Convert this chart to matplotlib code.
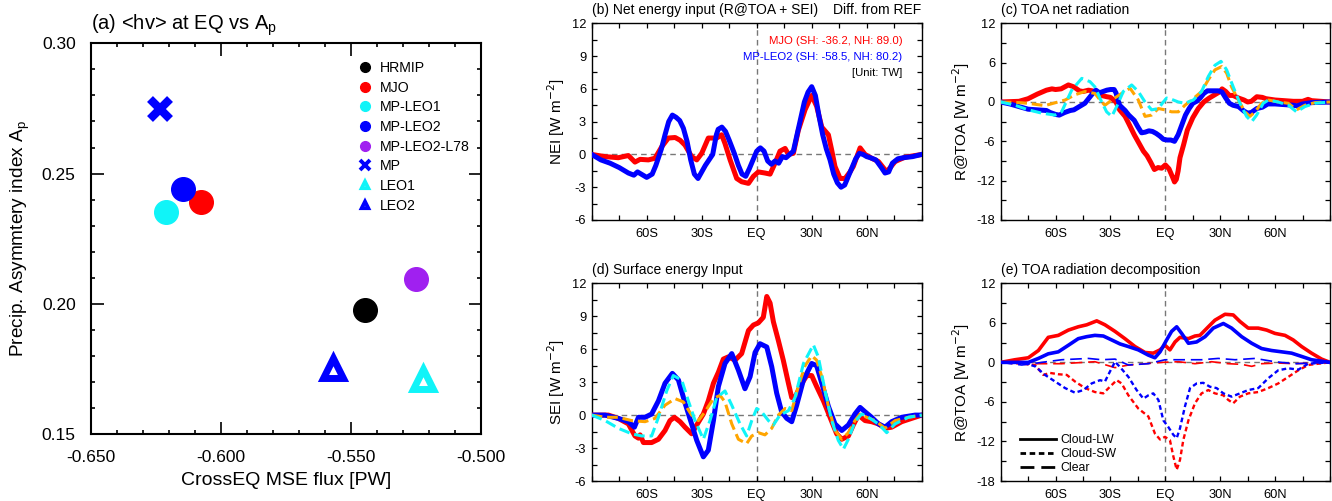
import matplotlib
matplotlib.use('Agg')
import matplotlib.pyplot as plt
from matplotlib.lines import Line2D
from matplotlib.ticker import MultipleLocator, FormatStrFormatter, FixedLocator, FixedFormatter

plt.rcParams['font.family'] = ['Liberation Sans', 'DejaVu Sans']
plt.rcParams['axes.unicode_minus'] = False

RED = '#ff0000'
BLUE = '#0000ff'
CYAN = '#10f4f8'
ORANGE = '#ffa500'
PURPLE = '#a020f0'

# ---- (a) scatter: cross-equatorial MSE flux vs precip asymmetry
exp_names = ['HRMIP', 'MJO', 'MP-LEO1', 'MP-LEO2', 'MP-LEO2-L78', 'MP', 'LEO1', 'LEO2']
exp_flux = [-0.5448, -0.6076, -0.6211, -0.6145, -0.5249, -0.6234, -0.5225, -0.5570]
exp_ap = [0.1976, 0.2390, 0.2352, 0.2442, 0.2097, 0.2748, 0.1712, 0.1756]
exp_color = ['black', RED, CYAN, BLUE, PURPLE, BLUE, CYAN, BLUE]
exp_marker = ['o', 'o', 'o', 'o', 'o', 'x', '^', '^']

# ---- (b) net energy input
nei_mjo_lat = [-90, -82.7, -75.5, -70, -66.4, -63.6, -59.1, -55.5, -51.8, -48.2, -44.5, -41.8, -39.1,
               -35.5, -32.7, -30, -26.4, -21.8, -19.1, -17.3, -14.5, -10.9, -8.2, -4.5, -1.8, 0.9,
               4.5, 7.3, 10, 12.7, 15.5, 17.3, 20, 22.7, 26.4, 30, 32.7, 35.5, 39.1, 40.9, 42.7,
               45.5, 48.2, 50.9, 52.7, 56.4, 59.1, 62.7, 66.4, 70.9, 75.5, 80.9, 86.4, 90]
nei_mjo = [0, -0.2, -0.3, -0.1, -0.7, -0.45, -0.5, -0.35, 0.7, 1.5, 1.55, 1.3, 0.85,
           -0.2, -0.5, 0.1, 1.5, 1.5, 1.8, 1.0, -0.5, -2.2, -2.5, -2.65, -2.0, -1.6,
           -1.7, -1.8, -0.8, 0.3, 0.55, 0.0, 0.1, 2.2, 4.1, 5.4, 4.4, 2.5, 1.8, 0.4, -1.1,
           -2.2, -2.2, -1.6, -1.1, 0.6, 0.0, -0.35, -0.65, -1.6, -0.65, -0.25, -0.1, 0]
nei_leo2_lat = [-90, -85, -80, -75, -70, -67, -65, -63, -60, -57, -55, -52, -50, -48, -46, -44, -42,
                -40, -38, -36, -34, -32, -30, -28, -26, -24, -22, -21, -19, -17, -15, -12, -10, -8,
                -6, -4, -2, 0, 2, 4, 6, 8, 10, 12, 14, 16, 18, 20, 22, 24, 26, 28, 30, 32, 34, 36,
                38, 40, 42, 44, 46, 48, 50, 52, 54, 56, 58, 60, 62, 65, 68, 70, 72, 74, 77, 80, 85, 90]
nei_leo2 = [0, -0.5, -0.8, -1.2, -1.7, -1.9, -1.6, -1.8, -2.1, -1.8, -1.0, 0.5, 1.8, 3.0, 3.6, 3.4, 3.1,
            2.4, 1.2, -0.5, -1.8, -2.2, -1.6, -1.0, -0.5, 0.0, 1.8, 2.3, 2.5, 2.1, 1.3, 0.0, -1.0, -1.8,
            -2.0, -1.3, -0.5, 0.3, 0.6, 0.3, -0.6, -0.9, -0.6, -0.8, -0.2, -0.3, 0.0, 0.3, 1.8, 3.3, 4.8,
            5.7, 6.2, 5.4, 3.5, 1.8, 0.5, -0.5, -1.8, -2.6, -3.0, -2.8, -2.0, -1.2, -0.4, 0.1, 0.0, -0.2,
            -0.3, -0.5, -1.2, -1.7, -1.6, -0.8, -0.4, -0.3, -0.2, 0]

# ---- (c) TOA net radiation
toa_mjo_lat = [-90, -80, -75, -70, -65, -62, -60, -57, -55, -53, -50, -47, -45, -42, -40, -38, -35, -32,
               -30, -27, -25, -22, -20, -17, -15, -12, -10, -8, -6, -4, -2, 0, 2, 4, 5, 6, 7, 8, 10,
               12, 15, 18, 21, 24, 27, 30, 31, 33, 35, 37, 40, 43, 45, 47, 50, 53, 55, 60, 65, 70, 75,
               78, 80, 85, 90]
toa_mjo = [0, 0.1, 0.5, 1.2, 1.8, 2.0, 1.9, 2.0, 2.3, 2.6, 2.3, 1.7, 1.6, 1.8, 1.7, 1.5, 1.0, 0.8,
           0.7, 0.0, -1.2, -2.2, -3.3, -5.0, -6.0, -7.5, -8.2, -9.2, -10.3, -10.0, -10.1, -9.6, -10.2,
           -11.5, -12.2, -11.8, -10.5, -8.5, -6.5, -4.3, -2.4, -1.0, 0.0, 0.6, 1.1, 1.6, 2.0, 1.6, 1.0,
           1.0, 0.6, 0.3, 0.0, 0.1, 0.8, 0.7, 0.5, 0.3, 0.2, 0.1, 0.1, 0.4, 0.2, 0.1, 0]
toa_leo2_lat = [-90, -85, -80, -75, -70, -65, -63, -60, -58, -55, -52, -50, -47, -44, -42, -40, -38, -36,
                -34, -32, -30, -28, -27, -25, -22, -20, -17, -15, -13, -11, -9, -7, -5, -3, -1, 1, 3,
                5, 7, 9, 11, 13, 15, 17, 19, 21, 23, 26, 29, 31, 33, 35, 37, 40, 43, 45, 47, 50, 53,
                56, 60, 65, 70, 72, 75, 80, 90]
toa_leo2 = [0, -0.3, -0.7, -1.1, -1.2, -1.3, -1.6, -1.9, -2.0, -1.6, -1.3, -1.2, -0.7, -0.2, 0.5, 1.2,
            1.8, 1.4, 1.6, 1.8, 1.9, 1.9, 1.4, -0.5, -1.3, -2.0, -2.8, -3.8, -4.7, -4.6, -4.4, -4.5,
            -4.8, -5.2, -5.7, -5.8, -5.8, -6.0, -5.0, -3.5, -2.0, -1.0, -0.2, 0.1, 0.6, 1.3, 1.7, 1.7,
            1.7, 1.5, 0.6, -0.2, -0.5, -0.7, -1.4, -1.7, -1.6, -1.0, -0.8, -0.3, -0.3, -0.4, -0.5,
            -0.6, -0.3, -0.1, 0]
toa_or_lat = [-90, -80, -75, -70, -65.8, -54.8, -49.4, -43.9, -38.5, -34.8, -33, -29.3, -23.9, -19.3,
              -14.8, -11.1, -7.5, -3.8, -0.2, 3.4, 7.1, 10.7, 14.4, 19.8, 23.5, 27.1, 30.8, 33.5,
              36.2, 39.9, 43.5, 46.2, 49, 52.6, 56.3, 61.7, 67.2, 71.7, 76.3, 81.8, 90]
toa_or = [0, -0.1, -0.2, -0.4, -0.55, 0.3, 1.1, 1.6, 1.3, 0.0, -0.5, 0.3, 1.3, 2.1,
          0.3, -2.2, -2.0, -1.0, -1.2, -1.5, -1.5, -0.5, 0.3, 1.6, 3.4, 4.9, 5.4, 4.4,
          2.3, 0.3, -1.5, -2.2, -1.5, -0.2, 0.3, 0.0, -0.2, -1.2, -0.5, -0.1, 0]
toa_cy_lat = [-90, -82.2, -74.9, -67.6, -60.3, -56.7, -51.2, -45.7, -41.2, -38.5, -34.8, -32.1, -29.3,
              -26.6, -23, -18.4, -14.8, -11.1, -7.5, -3.8, -1.1, 0.7, 3.4, 7.1, 10.7, 15.3, 19.8,
              23.5, 27.1, 30.4, 33.5, 37.1, 40.8, 44.4, 47.2, 49.9, 53.5, 56.3, 61.7, 67.2, 71.7,
              76.3, 81.8, 90]
toa_cy = [0, -0.5, -1.2, -1.7, -2.0, -1.5, 1.8, 3.6, 3.1, 2.3, 0.0, -1.5, -2.2,
          -0.7, 1.6, 2.6, 1.6, 0.0, -1.2, -1.0, 0.0, 0.6, 0.4, 0.0, -0.2, 0.3, 1.6,
          3.9, 5.6, 6.2, 4.9, 2.3, -0.2, -2.2, -3.0, -2.0, -0.2, 0.3, 0.0, -0.5, -1.5,
          -0.7, -0.2, 0]

# ---- (d) surface energy input
sei_mjo_lat = [-90, -80.9, -75.5, -70, -66.4, -64.5, -63.6, -61.8, -57.3, -53.6, -50, -47.3, -44.9, -41.8,
               -39.1, -35.5, -32.7, -29.1, -26.4, -23.6, -20.9, -18.2, -15.5, -11.8, -8.2, -4.5, -1.8,
               0.9, 3.6, 5.5, 7.3, 9.1, 11.8, 14.5, 17.3, 19.1, 20.9, 23.6, 27.3, 30, 32.7, 36.4, 40,
               43.6, 46.4, 50, 52.7, 55.5, 59.1, 62.7, 66.4, 70, 73.6, 79.1, 84.5, 90]
sei_mjo = [0, 0.0, -0.3, -0.8, -1.9, -2.1, -1.8, -2.5, -2.5, -2.2, -1.4, -0.5, -0.2, -0.6,
           -1.1, -1.7, -0.9, 0.1, 1.3, 2.9, 3.9, 5.1, 5.3, 5.0, 5.6, 7.7, 8.2,
           8.4, 8.9, 10.8, 10.2, 8.5, 6.8, 5.0, 2.9, 1.6, 1.6, 2.6, 3.6, 3.6, 2.6, 1.3, -0.2,
           -1.7, -2.2, -1.9, -0.9, 0.0, -0.5, -0.6, -0.8, -1.2, -1.1, -0.6, -0.3, 0]
sei_leo2_lat = [-90, -82.7, -75.5, -70, -66.7, -64.5, -60.9, -57.3, -53.6, -50, -46, -42.7, -39.1, -35.5,
                -32.7, -29.1, -26.4, -23.6, -20.9, -17.3, -13.6, -10, -6.4, -3.6, -0.9, 1.8, 5.5, 8.2,
                10.9, 13.6, 16.4, 19.1, 21.8, 25.5, 30, 32.7, 35.5, 39.1, 42.7, 46.4, 50, 53.6, 56.4,
                59.1, 62.7, 66.4, 70, 73.6, 79.1, 86.4, 90]
sei_leo2 = [0, 0.0, -0.3, -0.6, -1.1, -0.2, -0.2, 0.1, 1.3, 2.9, 3.8, 3.2, 1.1, -0.8,
            -2.3, -3.8, -3.2, -0.5, 2.6, 4.7, 5.6, 4.1, 2.4, 3.5, 5.7, 6.5, 6.2, 4.4,
            2.0, 0.3, -0.3, -0.6, 0.9, 3.2, 4.7, 4.5, 2.9, 0.8, -0.8, -1.4, -0.9, 0.1, 0.7,
            0.3, -0.2, -0.8, -1.1, -0.6, -0.2, 0.0, 0]
sei_or_lat = [-90, -82.7, -75.5, -68.2, -60.9, -55.5, -50, -44.5, -40, -35.5, -31.8, -28.2, -23.6, -20,
              -17.3, -13.6, -10, -5.5, -2.7, 0.9, 4.5, 8.2, 11.8, 15.5, 19.1, 22.7, 26.4, 30, 32.7,
              35.5, 39.1, 42.7, 46.4, 50, 53.6, 56.4, 60, 64.5, 70, 75.5, 82.7, 90]
sei_or = [0, -0.2, -0.2, -0.5, -0.6, -0.3, 0.9, 1.5, 1.2, 0.0, -0.5, 0.3, 1.5, 1.8,
          1.2, -0.8, -2.2, -2.6, -1.9, -1.6, -1.8, -1.2, 0.0, 0.6, 0.4, 2.6, 4.5, 5.4, 5.0,
          3.5, 0.8, -1.4, -2.2, -1.6, -0.5, 0.1, -0.2, -0.5, -1.2, -0.5, -0.2, 0]
sei_cy_lat = [-90, -82.7, -75.5, -68.2, -62.7, -57.3, -53.6, -49.1, -45.5, -40.9, -37.3, -33.6, -29.1,
              -25.5, -21.8, -17.3, -13.6, -9.1, -5.5, -2.7, 0, 2.7, 6.4, 9.1, 12.7, 17.3, 20.9,
              25.5, 30.9, 33.6, 37.3, 40.9, 44.5, 47.3, 50, 53.6, 57.3, 60.9, 66.4, 70.9, 75.5,
              82.7, 90]
sei_cy = [0, -0.5, -1.2, -1.7, -1.9, -1.9, -0.2, 2.2, 3.6, 3.2, 1.3, -0.5, -2.2,
          -0.5, 1.6, 2.2, 0.9, -0.8, -1.9, -0.5, 0.6, 0.3, -0.5, -0.9, 0.0, 0.4, 1.6,
          4.7, 6.4, 5.3, 2.2, -0.5, -2.3, -3.1, -2.2, -0.6, 0.1, -0.2, -0.8, -1.6, -0.8,
          -0.2, 0]

# ---- (e) TOA radiation decomposition
lw_mjo_lat = [-90, -82.2, -74.9, -69.4, -64, -58.5, -53, -47.6, -43, -37.5, -33, -27.5, -22.1, -16.6,
              -11.1, -6.6, -2.9, -0.2, 2.5, 5.3, 8, 12.6, 16.2, 18.9, 23.5, 27.1, 32.6, 37.1, 40.8,
              45.3, 50.8, 55.4, 59.9, 65.4, 69.9, 74.5, 79.9, 85.4, 90]
lw_mjo = [0, 0.4, 0.7, 1.8, 3.8, 4.1, 4.9, 5.4, 5.7, 6.3, 5.7, 4.7, 3.6, 2.4,
          1.5, 1.4, 1.9, 2.6, 1.9, 3.1, 3.8, 3.6, 4.0, 4.1, 5.4, 6.4, 7.3, 7.2, 6.2,
          5.2, 5.2, 4.9, 4.4, 4.1, 3.4, 2.4, 1.4, 0.5, 0]
lw_leo2_lat = [-90, -74.9, -69.4, -64, -58.5, -53, -47.6, -43, -38.5, -33.9, -29.3, -24.8, -20.2, -14.8,
               -9.3, -5.7, -2.9, 0.7, 3.4, 6.2, 8.9, 12.6, 17.1, 21.7, 26.2, 31.7, 36.2, 41.7, 47.2,
               52.6, 58.1, 63.6, 69, 74.5, 79.9, 90]
lw_leo2 = [0, 0.0, 0.6, 1.3, 1.6, 2.6, 3.6, 3.9, 4.1, 4.0, 3.4, 2.8, 2.4, 1.9,
           1.1, 0.7, 1.6, 3.4, 4.7, 5.4, 4.4, 2.9, 3.1, 3.9, 5.2, 5.9, 5.2, 3.9, 2.9,
           2.1, 1.8, 1.6, 1.4, 0.9, 0.4, 0]
sw_mjo_lat = [-90, -78.5, -71.2, -66.7, -63, -58.5, -53.9, -49.4, -43.9, -38.5, -33.9, -30.3, -26.6,
              -23.9, -20.2, -14.8, -9.3, -5.7, -2.9, -0.2, 2.5, 4.4, 6.2, 8, 9.8, 12.6, 16.2, 19.8,
              23.5, 27.1, 31.7, 34.4, 37.1, 40.8, 45.3, 50.8, 56.3, 61.7, 67.2, 72.7, 78.1, 83.6, 90]
sw_mjo = [0, -0.2, -0.4, -1.9, -1.6, -1.8, -1.9, -2.9, -3.9, -4.5, -4.7, -3.7, -2.7,
          -3.2, -5.0, -7.0, -8.2, -10.8, -11.7, -11.3, -11.8, -14.3, -16.3, -14.8, -11.8, -8.8,
          -6.2, -4.7, -4.2, -4.7, -5.0, -5.7, -6.2, -5.2, -4.7, -4.5, -3.9, -3.2, -2.2, -1.2,
          -0.4, -0.2, 0]
sw_leo2_lat = [-90, -78.5, -71.2, -65.8, -60.3, -54.8, -49.4, -44.8, -40.3, -35.7, -33, -30.3, -27.5,
               -24.8, -20.2, -15.7, -12, -9.3, -6.6, -3.8, -1.1, 1.6, 4.4, 6.2, 8, 10.7, 13.5, 17.1,
               20.7, 24.4, 28, 31.7, 36.2, 40.8, 45.3, 50.8, 56.3, 61.7, 67.2, 72.7, 78.1, 90]
sw_leo2 = [0, 0.0, -0.6, -1.9, -2.9, -3.9, -4.6, -4.2, -3.2, -2.7, -2.9, -1.4, 0.1,
           -0.7, -2.2, -4.2, -5.5, -5.0, -4.7, -5.7, -8.8, -9.8, -11.0, -11.5, -10.0, -6.7,
           -3.9, -3.2, -3.1, -3.7, -3.9, -4.7, -5.2, -4.7, -4.2, -3.9, -2.4, -1.2, -0.9, -1.1,
           -0.2, 0]
clr_mjo_lat = [-90, -74.9, -56.7, -38.5, -27.5, -20.2, -11.1, -2, 7.1, 16.2, 25.3, 34.4, 41.7, 47.2,
               52.6, 61.7, 70.8, 90]
clr_mjo = [0, -0.2, -0.2, 0.1, -0.8, -0.4, -0.2, 0.0, 0.1, -0.2, 0.1, -0.2, -0.3, -0.6,
           -0.2, -0.1, -0.2, 0]
clr_leo2_lat = [-90, -78.5, -67.6, -56.7, -42.1, -34.8, -27.5, -20.2, -9.3, -0.2, 8.9, 19.8, 28.9,
                38.1, 49, 59.9, 70.8, 90]
clr_leo2 = [0, -0.4, 0.0, 0.4, 0.6, 0.4, 0.5, -0.4, -0.2, 0.4, 0.4, 0.4, 0.6,
            0.4, 0.6, 0.1, -0.2, 0]

lat_ticks = [-60, -30, 0, 30, 60]
lat_labels = ['60S', '30S', 'EQ', '30N', '60N']

W, H = 1332, 501


def px_axes(fig, left, top, right, bottom):
    return fig.add_axes([left / W, 1 - bottom / H, (right - left) / W, (bottom - top) / H])


def style_lat(ax, ymin, ymax, ystep, ylabel):
    ax.set_xlim(-90, 90)
    ax.set_ylim(ymin, ymax)
    ax.xaxis.set_major_locator(FixedLocator(lat_ticks))
    ax.xaxis.set_major_formatter(FixedFormatter(lat_labels))
    ax.xaxis.set_minor_locator(MultipleLocator(15))
    ax.yaxis.set_major_locator(MultipleLocator(ystep))
    ax.yaxis.set_minor_locator(MultipleLocator(ystep / 2))
    ax.tick_params(which='both', direction='in', top=True, right=True, length=3.5, width=0.9,
                   labelsize=9.3, pad=4)
    ax.tick_params(axis='x', pad=6)
    for s in ax.spines.values():
        s.set_linewidth(1.0)
    ax.axhline(0, color='#777777', lw=1.0, dashes=(4, 3), zorder=1)
    ax.axvline(0, color='#777777', lw=1.0, dashes=(4, 3), zorder=1)
    ax.set_ylabel(ylabel, fontsize=11, labelpad=3)


fig = plt.figure(figsize=(W / 100, H / 100), dpi=100)

# (a)
ax = px_axes(fig, 91, 43.3, 481, 434.3)
for x, y, c, m in zip(exp_flux, exp_ap, exp_color, exp_marker):
    if m == 'o':
        ax.plot(x, y, 'o', ms=17, color=c, mec=c, zorder=3)
    elif m == 'x':
        ax.plot(x, y, 'x', ms=15, mew=6, color=c, zorder=3)
    else:
        ax.plot(x, y, '^', ms=14, mew=5, mfc='white', mec=c, zorder=3)
ax.set_xlim(-0.65, -0.50)
ax.set_ylim(0.15, 0.30)
ax.xaxis.set_major_locator(MultipleLocator(0.05))
ax.xaxis.set_minor_locator(MultipleLocator(0.01))
ax.yaxis.set_major_locator(MultipleLocator(0.05))
ax.yaxis.set_minor_locator(MultipleLocator(0.01))
ax.xaxis.set_major_formatter(FormatStrFormatter('%.3f'))
ax.yaxis.set_major_formatter(FormatStrFormatter('%.2f'))
ax.tick_params(which='major', direction='in', top=True, right=True, length=9, width=1.2,
               labelsize=12.5, pad=11)
ax.tick_params(which='minor', direction='in', top=True, right=True, length=3, width=1.2)
for s in ax.spines.values():
    s.set_linewidth(1.5)
ax.set_xlabel('CrossEQ MSE flux [PW]', fontsize=14, labelpad=5)
ax.set_ylabel('Precip. Asymmtery index A$_\\mathregular{p}$', fontsize=13.7, labelpad=7)
ax.set_title('(a) <hv> at EQ vs A$_\\mathregular{p}$', fontsize=14.5, loc='left', pad=9.5)
handles = []
for c, m in zip(exp_color, exp_marker):
    if m == 'o':
        handles.append(Line2D([], [], ls='none', marker='o', ms=7, color=c))
    elif m == 'x':
        handles.append(Line2D([], [], ls='none', marker='x', ms=6.5, mew=2.8, color=c))
    else:
        handles.append(Line2D([], [], ls='none', marker='^', ms=5, mew=3, mfc='white', mec=c))
ax.legend(handles, exp_names, loc='upper left', bbox_to_anchor=(0.685, 0.955), frameon=False,
          fontsize=10.2, handlelength=1.0, handletextpad=0.5, labelspacing=0.4, borderpad=0,
          borderaxespad=0)

# (b)
ax = px_axes(fig, 591.7, 23.3, 921.7, 220)
ax.plot(nei_mjo_lat, nei_mjo, color=RED, lw=3.6, zorder=3)
ax.plot(nei_leo2_lat, nei_leo2, color=BLUE, lw=3.6, zorder=4)
style_lat(ax, -6, 12, 3, 'NEI [W m$^{-2}$]')
ax.set_title('(b) Net energy input (R@TOA + SEI)', fontsize=10, loc='left', pad=7)
ax.set_title('Diff. from REF', fontsize=10, loc='right', pad=7)
ax.text(0.942, 0.9115, 'MJO (SH: -36.2, NH: 89.0)', color=RED, fontsize=8.2, ha='right', va='center',
        transform=ax.transAxes)
ax.text(0.942, 0.827, 'MP-LEO2 (SH: -58.5, NH: 80.2)', color=BLUE, fontsize=8.2, ha='right',
        va='center', transform=ax.transAxes)
ax.text(0.942, 0.746, '[Unit: TW]', color='black', fontsize=8.2, ha='right', va='center',
        transform=ax.transAxes)

# (c)
ax = px_axes(fig, 1000.7, 23.3, 1330, 220)
ax.plot(toa_mjo_lat, toa_mjo, color=RED, lw=3.6, zorder=3)
ax.plot(toa_leo2_lat, toa_leo2, color=BLUE, lw=3.6, zorder=4)
ax.plot(toa_or_lat, toa_or, color=ORANGE, lw=2.2, dashes=(3.5, 1.6), zorder=5)
ax.plot(toa_cy_lat, toa_cy, color=CYAN, lw=2.2, dashes=(3.5, 1.6), zorder=6)
style_lat(ax, -18, 12, 6, 'R@TOA [W m$^{-2}$]')
ax.set_title('(c) TOA net radiation', fontsize=10, loc='left', pad=7)

# (d)
ax = px_axes(fig, 591.7, 283.3, 921.7, 481)
ax.plot(sei_mjo_lat, sei_mjo, color=RED, lw=3.6, zorder=3)
ax.plot(sei_leo2_lat, sei_leo2, color=BLUE, lw=3.6, zorder=4)
ax.plot(sei_or_lat, sei_or, color=ORANGE, lw=2.2, dashes=(3.5, 1.6), zorder=5)
ax.plot(sei_cy_lat, sei_cy, color=CYAN, lw=2.2, dashes=(3.5, 1.6), zorder=6)
style_lat(ax, -6, 12, 3, 'SEI [W m$^{-2}$]')
ax.set_title('(d) Surface energy Input', fontsize=10, loc='left', pad=7)

# (e)
ax = px_axes(fig, 1000.7, 283.3, 1330, 481)
ax.plot(lw_mjo_lat, lw_mjo, color=RED, lw=2.6, zorder=3)
ax.plot(lw_leo2_lat, lw_leo2, color=BLUE, lw=2.6, zorder=4)
ax.plot(sw_mjo_lat, sw_mjo, color=RED, lw=1.7, dashes=(2, 1.3), zorder=3)
ax.plot(sw_leo2_lat, sw_leo2, color=BLUE, lw=1.7, dashes=(2, 1.3), zorder=4)
ax.plot(clr_mjo_lat, clr_mjo, color=RED, lw=1.2, dashes=(7, 3.5), zorder=3)
ax.plot(clr_leo2_lat, clr_leo2, color=BLUE, lw=1.2, dashes=(7, 3.5), zorder=4)
style_lat(ax, -18, 12, 6, 'R@TOA [W m$^{-2}$]')
ax.set_title('(e) TOA radiation decomposition', fontsize=10, loc='left', pad=7)
leg_lines = [Line2D([], [], color='black', lw=2.0),
             Line2D([], [], color='black', lw=2.0, dashes=(2, 1.3)),
             Line2D([], [], color='black', lw=2.0, dashes=(5, 2.5))]
ax.legend(leg_lines, ['Cloud-LW', 'Cloud-SW', 'Clear'], loc='lower left',
          bbox_to_anchor=(0.058, 0.035), frameon=False, fontsize=8.8, handlelength=3.0,
          handletextpad=0.3, labelspacing=0.15, borderpad=0, borderaxespad=0)

fig.savefig('out.png', dpi=100)
